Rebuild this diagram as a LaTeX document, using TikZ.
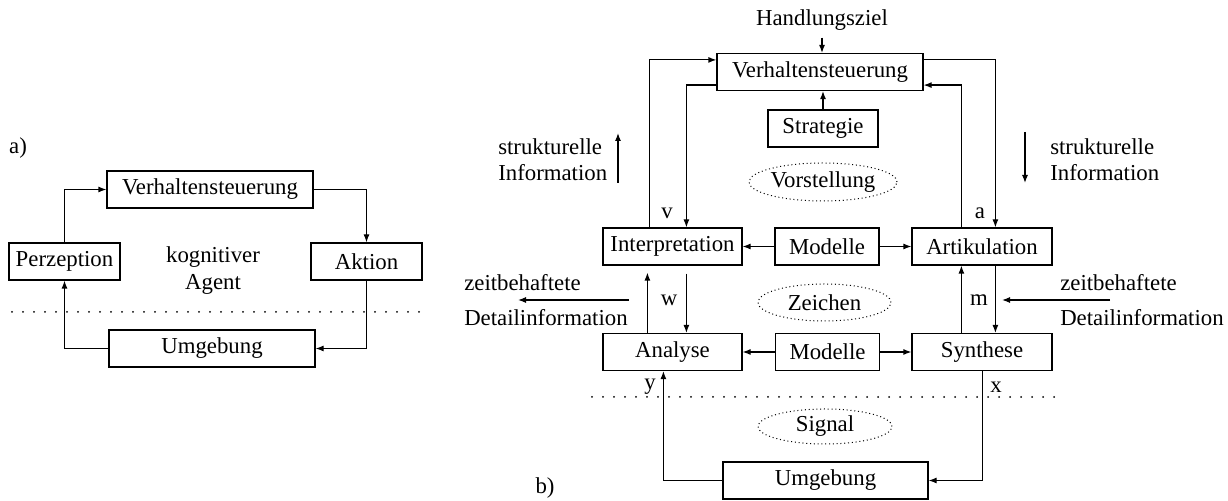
\documentclass[tikz,border=0pt]{standalone}
\usepackage{fontspec}
\setmainfont{Liberation Serif}
\usetikzlibrary{arrows.meta,shapes.geometric,calc}

\begin{document}
\begin{tikzpicture}[x=0.5pt,y=-0.5pt,font=\fontsize{11.4}{13}\selectfont,line width=0.6pt,
	>={Latex[length=4pt,width=3pt]},
	box/.style={rectangle,draw,minimum height=18.5pt,inner sep=1pt},
	cloud/.style={ellipse,draw,dash pattern=on 0.5pt off 1.4pt,line width=0.5pt,inner sep=0pt},
	sepline/.style={line width=1pt,line cap=round,dash pattern=on 0pt off 5.5pt}]
	\useasboundingbox (0,0) rectangle (1228,501);

	% a) kognitiver Agent
	\node (labA) at (18,148) {a)};
	\node (verhA)[box,minimum width=103pt] at (210,189.5) {Verhaltensteuerung};
	\node (perz)[box,minimum width=55.5pt] at (64.5,261.5) {Perzeption};
	\node (akt)[box,minimum width=55.5pt] at (366.5,261.5) {Aktion};
	\node (umgA)[box,minimum width=103pt] at (212,348.5) {Umgebung};
	\node (agent)[align=center,text depth=0pt] at (213,268) {kognitiver\\[0.5pt]Agent};
	\draw[sepline] (12,312) -- (423,312);

	\draw[->](perz.north) |- (verhA.west);
	\draw[->](verhA.east) -| (akt.north);
	\draw[->](akt.south) |- (umgA.east);
	\draw[->](umgA.west) -| (perz.south);

	% b) Ebenen
	\node (labB) at (545,488) {b)};
	\node (ziel) at (822,20) {Handlungsziel};
	\node (verhB)[box,minimum width=103pt] at (820,72) {Verhaltensteuerung};
	\node (strat)[box,minimum width=55pt] at (823,128.5) {Strategie};
	\node (vorst)[cloud,minimum width=68pt,minimum height=19pt] at (823,182) {Vorstellung};

	\node (interp)[box,minimum width=69.5pt] at (672.5,246.5) {Interpretation};
	\node (modT)[box,minimum width=52pt] at (827,246.5) {Modelle};
	\node (artik)[box,minimum width=70pt] at (982,246.5) {Artikulation};
	\node (zeich)[cloud,minimum width=66.5pt,minimum height=18.5pt] at (824.5,302.5) {Zeichen};
	\node (analyse)[box,minimum width=69.5pt] at (672.5,352) {Analyse};
	\node (modB)[box,minimum width=52pt] at (827.5,352) {Modelle};
	\node (synth)[box,minimum width=70pt] at (982,352) {Synthese};
	\draw[sepline] (592,397) -- (1062,397);
	\node (sig)[cloud,minimum width=67pt,minimum height=17.5pt] at (825,426.5) {Signal};
	\node (umgB)[box,minimum width=102.5pt] at (825.5,480.5) {Umgebung};

	\node (v) at (667,213) {v};
	\node (a) at (980,213) {a};
	\node (w) at (669,300) {w};
	\node (m) at (979,300) {m};
	\node (y) at (650,387) {y};
	\node (x) at (996,387) {x};

	\node (strukL)[anchor=west,align=left] at (491,159.5) {strukturelle\\Information};
	\node (strukR)[anchor=west,align=left] at (1043,159.5) {strukturelle\\Information};
	\node (zeitL)[anchor=west,align=left] at (457,300) {zeitbehaftete\\[4.5pt]Detailinformation};
	\node (zeitR)[anchor=west,align=left] at (1053,300) {zeitbehaftete\\[4.5pt]Detailinformation};
	\coordinate (sl1) at (618,183);
	\coordinate (sl2) at (618,133);
	\coordinate (sr1) at (1025,132);
	\coordinate (sr2) at (1025,183);
	\coordinate (zl1) at (629,300);
	\coordinate (zl2) at (518,300);
	\coordinate (zr1) at (1110,300);
	\coordinate (zr2) at (1002,300);
	\draw[->](sl1) -- (sl2);
	\draw[->](sr1) -- (sr2);
	\draw[->](zl1) -- (zl2);
	\draw[->](zr1) -- (zr2);

	\draw[->](ziel.south) -- (ziel.south |- verhB.north);
	\draw[->](strat.north) -- (strat.north |- verhB.south);
	\draw[->]($(interp.north west)+(47,0)$) |- ($(verhB.north west)+(0,7)$);
	\draw[->]($(verhB.south west)+(0,-6)$) -| ($(interp.north west)+(84,0)$);
	\draw[->]($(verhB.north east)+(0,7)$) -| ($(artik.north west)+(84,0)$);
	\draw[->]($(artik.north west)+(50,0)$) |- ($(verhB.south east)+(0,-6)$);

	\draw[->](modT.west) -- (interp.east);
	\draw[->](modT.east) -- (artik.west);
	\draw[->](modB.west) -- (analyse.east);
	\draw[->](modB.east) -- (synth.west);

	\draw[->]($(analyse.north west)+(45,0)$) -- ($(interp.south west)+(45,7)$);
	\draw[->]($(interp.south west)+(84,8)$) -- ($(analyse.north west)+(84,0)$);
	\draw[->]($(synth.north west)+(50,0)$) -- ($(artik.south west)+(50,0)$);
	\draw[->]($(artik.south west)+(84,0)$) -- ($(synth.north west)+(84,0)$);

	\draw[->](umgB.west) -| ($(analyse.south west)+(61,0)$);
	\draw[->]($(synth.south west)+(71,0)$) |- (umgB.east);
\end{tikzpicture}
\end{document}
